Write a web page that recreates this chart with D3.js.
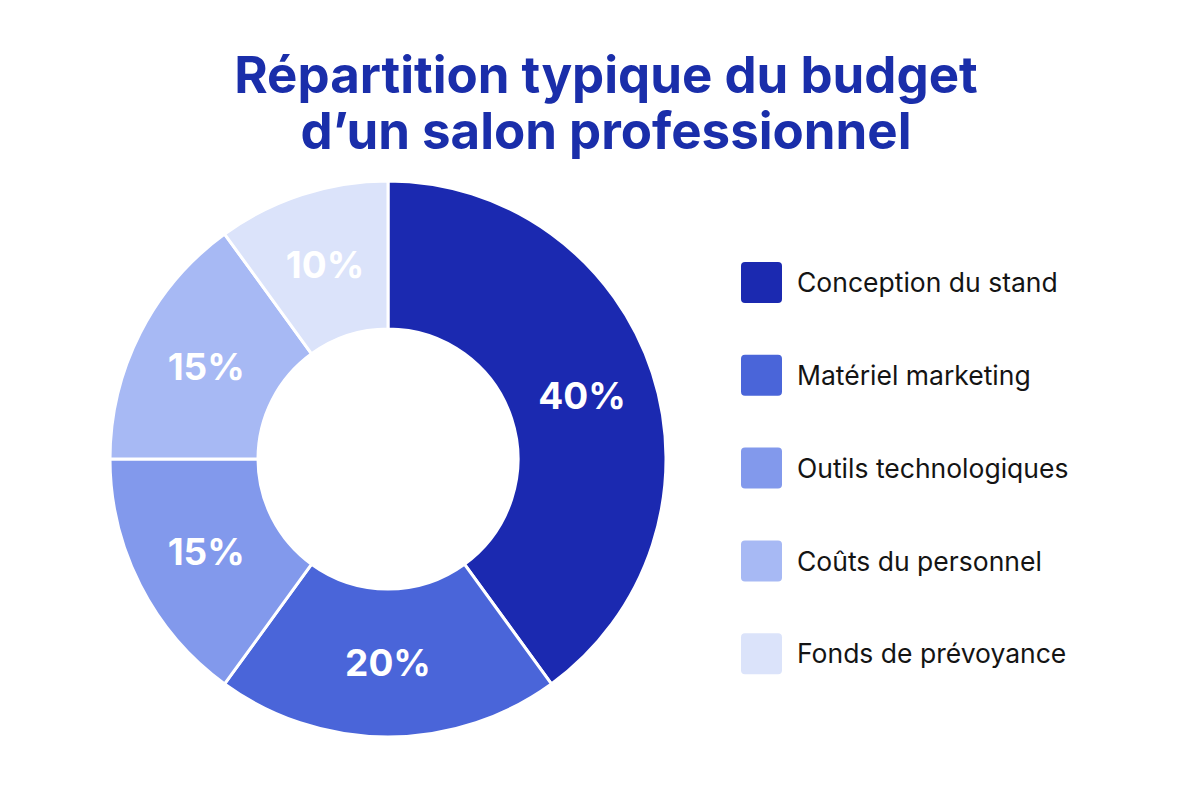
<!DOCTYPE html>
<html>
<head>
<meta charset="utf-8">
<script src="https://cdn.jsdelivr.net/npm/d3@7"></script>
<style>
body { margin: 0; background: #ffffff; }
svg { display: block; }
</style>
</head>
<body>
<svg id="chart"></svg>
<script>
// data
var categories = ["Conception du stand", "Matériel marketing", "Outils technologiques", "Coûts du personnel", "Fonds de prévoyance"];
var values = [40, 20, 15, 15, 10];
var colorsArray = ["#1b29b0", "#4a65d9", "#8299ec", "#a7b9f4", "#dbe3fa"];
var titleLines = ["Répartition typique du budget", "d’un salon professionnel"];

var width = 1200, height = 800;
var cx = 388, cy = 459, outerR = 278, innerR = 130;

var svg = d3.select("#chart").attr("width", width).attr("height", height);

svg.append("rect").attr("width", width).attr("height", height).attr("fill", "#ffffff");

// title
svg.append("g")
.selectAll("text")
.data(titleLines)
.join("text")
.attr("x", 606)
.attr("y", (d, i) => 93 + i * 56)
.attr("text-anchor", "middle")
.attr("font-family", "Inter, 'Noto Sans', sans-serif")
.attr("font-weight", 700)
.attr("font-size", 51)
.attr("fill", "#1a2eaa")
.text(d => d);

var color = d3.scaleOrdinal().domain(categories).range(colorsArray);

var data = categories.map((c, i) => ({name: c, value: values[i]}));

var pie = d3.pie().value(d => d.value).sort(null);
var arc = d3.arc().innerRadius(innerR).outerRadius(outerR);
var labelArc = d3.arc().innerRadius(innerR).outerRadius(outerR);

var g = svg.append("g").attr("transform", `translate(${cx},${cy})`);

g.selectAll("path")
.data(pie(data))
.join("path")
.attr("d", arc)
.attr("fill", d => color(d.data.name))
.attr("stroke", "#ffffff")
.attr("stroke-width", 3);

g.selectAll("text")
.data(pie(data))
.join("text")
.attr("transform", d => `translate(${labelArc.centroid(d)})`)
.attr("text-anchor", "middle")
.attr("dy", "0.36em")
.attr("font-family", "Inter, 'Noto Sans', sans-serif")
.attr("font-weight", 700)
.attr("font-size", 37)
.attr("fill", "#ffffff")
.text(d => d.data.value + "%");

// legend
var legend = svg.append("g")
.selectAll("g")
.data(categories)
.join("g")
.attr("transform", (d, i) => `translate(741,${262 + i * 92.8})`);

legend.append("rect")
.attr("width", 41)
.attr("height", 41)
.attr("rx", 4)
.attr("fill", d => color(d));

legend.append("text")
.attr("x", 56)
.attr("y", 21)
.attr("dy", "0.35em")
.attr("font-family", "Inter, 'Noto Sans', sans-serif")
.attr("font-size", 26.5)
.attr("fill", "#141414")
.text(d => d);
</script>
</body>
</html>
